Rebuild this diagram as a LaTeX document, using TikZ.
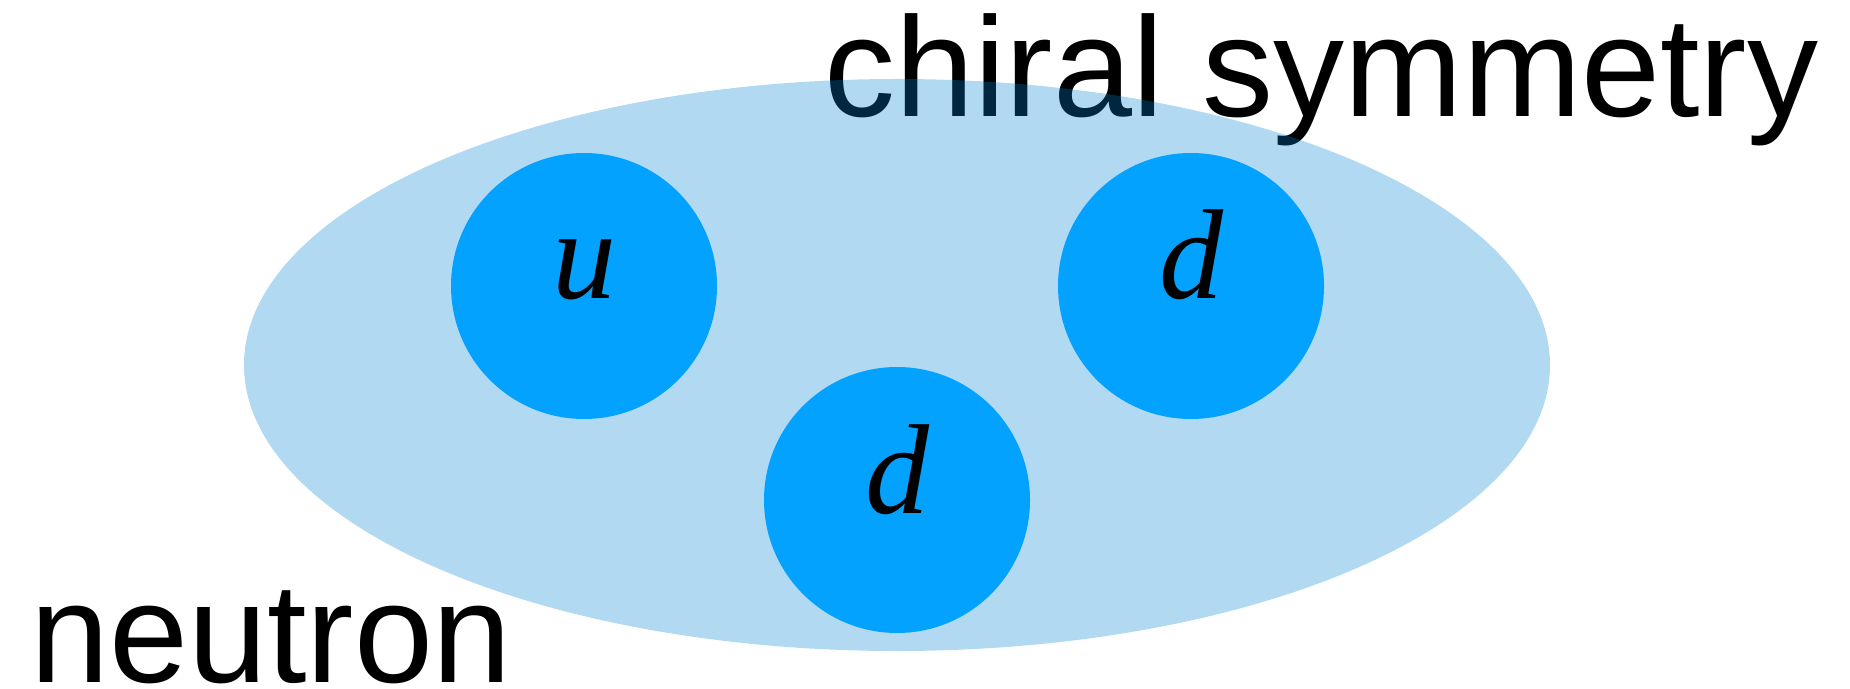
\documentclass[tikz,border=0pt]{standalone}
\usepackage{fontspec}
\setmainfont{Liberation Sans}
\newfontfamily\quarkfont{Liberation Serif}
\definecolor{haze}{RGB}{0,128,212}
\definecolor{quarkblue}{RGB}{3,162,255}
\tikzset{
  bigtext/.style={inner sep=0pt, font=\fontsize{71}{85}\selectfont, text=black},
  quarkdisc/.style={circle, fill=quarkblue, draw=none, minimum size=133pt, inner sep=0pt},
  quarklabel/.style={anchor=base, inner sep=0pt, font=\quarkfont\itshape\fontsize{64}{76}\selectfont, text=black}
}
\begin{document}
\begin{tikzpicture}[x=0.5pt,y=-0.5pt]
\useasboundingbox (0,0) rectangle (1850,689);
\node[bigtext, anchor=base west] (chiral) at (824,117) {chiral symmetry};
\node[bigtext, anchor=base west, text depth=0pt] (neutron) at (30,682) {neutron};
\fill[haze, fill opacity=0.3] (897,365) ellipse [x radius=653, y radius=286];
\node[quarkdisc] (qu) at (584,286) {};
\node[quarkdisc] (qd1) at (1191,286) {};
\node[quarkdisc] (qd2) at (897,500) {};
\node[quarklabel] (lu) at ([yshift=-6.5pt]qu.center) {u};
\node[quarklabel] (ld1) at ([yshift=-6.5pt]qd1.center) {d};
\node[quarklabel] (ld2) at ([yshift=-6.5pt]qd2.center) {d};
\end{tikzpicture}
\end{document}
